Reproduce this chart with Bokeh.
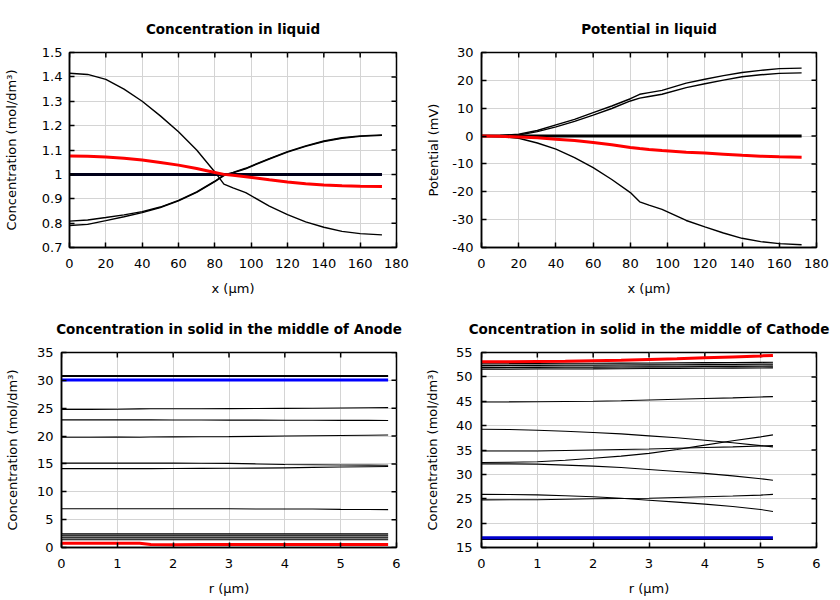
import math
from bokeh.plotting import figure
from bokeh.layouts import column, row
from bokeh.models import Range1d, FixedTicker, CustomJSTickFormatter
from bokeh.embed import file_html
from bokeh.resources import INLINE

# ---------------- data ----------------
x_liq = [0, 10, 20, 30, 40, 50, 60, 70, 80, 85, 90, 97, 110, 120, 130, 140, 150, 160, 172]

c_liq_down = [1.415, 1.41, 1.39, 1.35, 1.30, 1.24, 1.175, 1.10, 1.01, 0.96, 0.945, 0.925,
              0.87, 0.835, 0.805, 0.783, 0.766, 0.757, 0.752]
c_liq_up1 = [0.808, 0.813, 0.823, 0.834, 0.847, 0.866, 0.893, 0.928, 0.972, 0.998, 1.008, 1.025,
             1.065, 1.093, 1.117, 1.137, 1.15, 1.158, 1.162]
c_liq_up2 = [0.79, 0.795, 0.81, 0.826, 0.843, 0.864, 0.891, 0.926, 0.97, 0.995, 1.006, 1.023,
             1.063, 1.091, 1.115, 1.135, 1.148, 1.156, 1.16]
c_liq_red = [1.075, 1.074, 1.071, 1.066, 1.059, 1.049, 1.038, 1.024, 1.008, 1.0, 0.996, 0.99,
             0.978, 0.969, 0.962, 0.956, 0.953, 0.951, 0.95]
c_liq_init = [1.0] * len(x_liq)

pot_up1 = [0, 0.2, 0.7, 2.0, 4.0, 6.0, 8.4, 10.8, 13.4, 15.0, 15.6, 16.4, 19.0, 20.4, 21.7, 22.8, 23.6, 24.2, 24.4]
pot_up2 = [0, 0.1, 0.4, 1.6, 3.3, 5.3, 7.5, 9.9, 12.6, 13.6, 14.2, 15.0, 17.4, 18.8, 20.1, 21.3, 22.0, 22.5, 22.7]
pot_down = [0, -0.2, -0.8, -2.5, -4.7, -7.7, -11.3, -15.6, -20.3, -23.6, -24.8, -26.3,
            -30.3, -32.6, -34.8, -36.7, -37.9, -38.6, -39.0]
pot_red = [0, -0.1, -0.3, -0.6, -1.1, -1.6, -2.3, -3.1, -4.1, -4.5, -4.8, -5.2,
           -5.8, -6.1, -6.5, -6.9, -7.2, -7.4, -7.6]
pot_init = [0.0] * len(x_liq)

r_an = [0, 0.5, 1, 1.4, 1.6, 2, 2.5, 3, 3.5, 4, 4.5, 5, 5.5, 5.85]
an_black = [
    [30.85] * 14,
    [30.7] * 14,
    [24.8, 24.8, 24.82, 24.88, 24.9, 24.9, 24.9, 24.92, 24.95, 24.98, 25.0, 25.05, 25.08, 25.1],
    [22.9, 22.9, 22.9, 22.9, 22.9, 22.88, 22.88, 22.87, 22.86, 22.85, 22.83, 22.82, 22.81, 22.8],
    [19.8, 19.8, 19.82, 19.8, 19.82, 19.85, 19.88, 19.9, 19.95, 20.0, 20.05, 20.1, 20.15, 20.2],
    [15.15, 15.15, 15.15, 15.15, 15.15, 15.15, 15.12, 15.1, 15.0, 14.9, 14.85, 14.8, 14.78, 14.75],
    [14.15, 14.15, 14.15, 14.15, 14.15, 14.17, 14.2, 14.22, 14.25, 14.3, 14.38, 14.45, 14.5, 14.55],
    [6.95, 6.95, 6.95, 6.95, 6.95, 6.95, 6.95, 6.95, 6.92, 6.9, 6.9, 6.85, 6.82, 6.8],
    [2.45] * 14,
    [2.1] * 14,
    [1.75] * 14,
    [1.4] * 14,
]
an_grey = [[2.28] * 14, [1.92] * 14, [1.58] * 14]
an_blue = [30.05] * 14
an_red = [0.75, 0.75, 0.75, 0.75, 0.55, 0.5, 0.52, 0.53, 0.55, 0.56, 0.55, 0.54, 0.55, 0.55]

r_ca = [0, 0.5, 1, 1.5, 2, 2.5, 3, 3.5, 4, 4.5, 5, 5.22]
ca_grey = [
    [52.5, 52.52, 52.55, 52.58, 52.6, 52.63, 52.66, 52.69, 52.72, 52.75, 52.78, 52.8],
    [52.1, 52.12, 52.15, 52.18, 52.2, 52.23, 52.26, 52.29, 52.32, 52.35, 52.38, 52.4],
    [51.72, 51.74, 51.77, 51.8, 51.82, 51.85, 51.88, 51.91, 51.94, 51.97, 52.0, 52.02],
]
ca_black = [
    [52.7, 52.72, 52.75, 52.78, 52.8, 52.83, 52.86, 52.89, 52.92, 52.95, 52.98, 53.0],
    [52.3, 52.32, 52.35, 52.38, 52.4, 52.43, 52.46, 52.49, 52.52, 52.55, 52.58, 52.6],
    [51.9, 51.92, 51.95, 51.98, 52.0, 52.03, 52.06, 52.09, 52.12, 52.15, 52.18, 52.2],
    [51.55, 51.57, 51.6, 51.63, 51.65, 51.68, 51.71, 51.74, 51.77, 51.8, 51.83, 51.85],
    [44.85, 44.87, 44.9, 44.95, 45.0, 45.1, 45.25, 45.4, 45.55, 45.7, 45.88, 45.95],
    [39.27, 39.2, 39.06, 38.85, 38.6, 38.3, 37.9, 37.5, 37.0, 36.5, 35.9, 35.65],
    [34.8, 34.8, 34.8, 34.9, 35.0, 35.1, 35.2, 35.35, 35.5, 35.65, 35.82, 35.9],
    [32.43, 32.5, 32.6, 32.9, 33.3, 33.75, 34.3, 35.1, 36.0, 36.9, 37.7, 38.1],
    [32.15, 32.15, 32.1, 31.9, 31.7, 31.4, 31.0, 30.6, 30.2, 29.7, 29.1, 28.8],
    [25.9, 25.88, 25.8, 25.62, 25.4, 25.1, 24.7, 24.3, 23.9, 23.4, 22.8, 22.4],
    [24.77, 24.78, 24.8, 24.9, 25.0, 25.05, 25.1, 25.25, 25.4, 25.55, 25.75, 25.9],
    [16.65] * 12,
]
ca_blue = [17.0] * 12
ca_red = [53.1, 53.1, 53.15, 53.2, 53.3, 53.4, 53.55, 53.7, 53.9, 54.1, 54.3, 54.4]

x_ticks_liq = [0, 20, 40, 60, 80, 100, 120, 140, 160, 180]
y_ticks_conc = [0.7, 0.8, 0.9, 1.0, 1.1, 1.2, 1.3, 1.4, 1.5]
y_ticks_pot = [-40, -30, -20, -10, 0, 10, 20, 30]
r_ticks = [0, 1, 2, 3, 4, 5, 6]
y_ticks_an = [0, 5, 10, 15, 20, 25, 30, 35]
y_ticks_ca = [15, 20, 25, 30, 35, 40, 45, 50, 55]

titles = ["Concentration in liquid", "Potential in liquid",
          "Concentration in solid in the middle of Anode",
          "Concentration in solid in the middle of Cathode"]
conc_label = "Concentration (mol/dm³)"

FONT = "DejaVu Sans"
fmt_code = "return Number(tick.toFixed(3)).toString();"


def make_fig(title, xr, yr, xticks, yticks, xlabel, ylabel, fw, bl, br, bt, bb,
             ystand, ylabstand, xstand, xlabstand):
    p = figure(frame_width=fw, frame_height=195, output_backend="svg", toolbar_location=None,
               x_range=Range1d(*xr), y_range=Range1d(*yr),
               min_border_left=bl, min_border_right=br, min_border_top=bt, min_border_bottom=bb)
    p.title.text = title
    p.title.text_font = FONT
    p.title.text_font_style = "bold"
    p.title.text_font_size = "13.5px"
    p.title.text_color = "black"
    p.title.align = "center"
    p.title.standoff = 12
    try:
        p.title.padding = 10
    except Exception:
        pass
    p.xaxis.ticker = FixedTicker(ticks=xticks)
    p.yaxis.ticker = FixedTicker(ticks=yticks)
    p.xaxis.axis_label = xlabel
    p.yaxis.axis_label = ylabel
    for ax, stand, labstand in ((p.xaxis[0], xstand, xlabstand), (p.yaxis[0], ystand, ylabstand)):
        ax.formatter = CustomJSTickFormatter(code=fmt_code)
        ax.major_label_text_font = FONT
        ax.major_label_text_font_size = "13px"
        ax.major_label_text_color = "black"
        ax.axis_label_text_font = FONT
        ax.axis_label_text_font_size = "13px"
        ax.axis_label_text_font_style = "normal"
        ax.axis_label_text_color = "black"
        ax.major_label_standoff = stand
        ax.axis_label_standoff = labstand
        ax.major_tick_in = 5
        ax.major_tick_out = 0
        ax.minor_tick_in = 0
        ax.minor_tick_out = 0
        ax.axis_line_width = 1.5
        ax.axis_line_color = "black"
        ax.major_tick_line_width = 1.5
        ax.major_tick_line_color = "black"
    # mirrored inward ticks on the right and top edges (gnuplot style)
    p.scatter([xr[1]] * len(yticks), yticks, marker="dash", size=10,
              line_color="black", line_width=1.5)
    p.scatter(xticks, [yr[1]] * len(xticks), marker="dash", size=10, angle=math.pi / 2,
              line_color="black", line_width=1.5)
    p.xgrid.grid_line_color = "#d4d4d4"
    p.ygrid.grid_line_color = "#d4d4d4"
    p.outline_line_color = "black"
    p.outline_line_width = 1.5
    p.background_fill_color = "white"
    p.border_fill_color = "white"
    return p


# Top-left
p1 = make_fig(titles[0], (0, 180), (0.7, 1.5), x_ticks_liq, y_ticks_conc, "x (µm)", conc_label,
              327, 69, 24, 52, 53, 7, 20, 11, 10)
p1.line(x_liq, c_liq_up2, line_color="black", line_width=1.4)
p1.line(x_liq, c_liq_up1, line_color="black", line_width=1.4)
p1.line(x_liq, c_liq_down, line_color="black", line_width=1.4)
p1.line(x_liq, c_liq_init, line_color="blue", line_width=3)
p1.line(x_liq, c_liq_init, line_color="black", line_width=3, line_alpha=0.9)
p1.line(x_liq, c_liq_red, line_color="red", line_width=3)

# Top-right
p2 = make_fig(titles[1], (0, 180), (-40, 30), x_ticks_liq, y_ticks_pot, "x (µm)", "Potential (mV)",
              335, 61, 16, 52, 53, 8, 8, 11, 10)
p2.line(x_liq, pot_up1, line_color="black", line_width=1.4)
p2.line(x_liq, pot_up2, line_color="black", line_width=1.4)
p2.line(x_liq, pot_down, line_color="black", line_width=1.4)
p2.line(x_liq, pot_init, line_color="black", line_width=3)
p2.line(x_liq, pot_red, line_color="red", line_width=3)

# Bottom-left
p3 = make_fig(titles[2], (0, 6), (0, 35), r_ticks, y_ticks_an, "r (µm)", conc_label,
              335, 61, 24, 52, 50, 8, 14, 11, 10)
for ys in an_grey:
    p3.line(r_an, ys, line_color="#a8a8a8", line_width=1.4)
for ys in an_black:
    p3.line(r_an, ys, line_color="black", line_width=1.1)
p3.line(r_an, an_blue, line_color="blue", line_width=3)
p3.line(r_an, an_red, line_color="red", line_width=3)

# Bottom-right
p4 = make_fig(titles[3], (0, 6), (15, 55), r_ticks, y_ticks_ca, "r (µm)", conc_label,
              335, 61, 16, 52, 50, 9, 13, 11, 10)
for ys in ca_grey:
    p4.line(r_ca, ys, line_color="#a8a8a8", line_width=1.4)
for ys in ca_black:
    p4.line(r_ca, ys, line_color="black", line_width=1.1)
p4.line(r_ca, ca_blue, line_color="#0000cc", line_width=3)
p4.line(r_ca, ca_red, line_color="red", line_width=3)

layout = column(row(p1, p2), row(p3, p4))

open("out.html", "w").write(file_html(layout, INLINE))
